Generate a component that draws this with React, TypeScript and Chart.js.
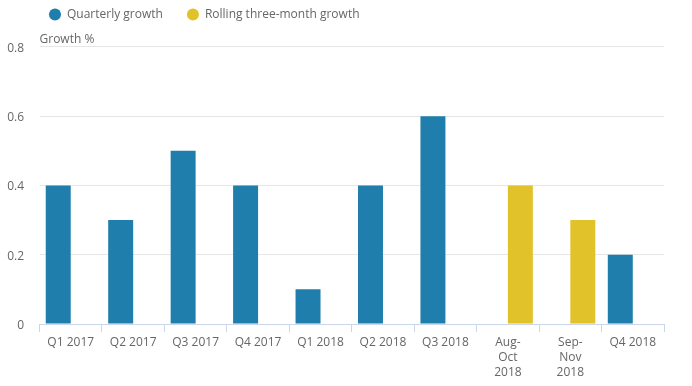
import React, { useEffect, useRef } from "react";
import { Chart, registerables } from "chart.js";

Chart.register(...registerables);

const categories: (string | string[])[] = [
  "Q1 2017",
  "Q2 2017",
  "Q3 2017",
  "Q4 2017",
  "Q1 2018",
  "Q2 2018",
  "Q3 2018",
  ["Aug-", "Oct", "2018"],
  ["Sep-", "Nov", "2018"],
  "Q4 2018",
];

const quarterlyGrowth: (number | null)[] = [0.4, 0.3, 0.5, 0.4, 0.1, 0.4, 0.6, null, null, 0.2];
const rollingGrowth: (number | null)[] = [null, null, null, null, null, null, null, 0.4, 0.3, null];

const yMin = 0;
const yMax = 0.8;
const yStep = 0.2;

const FONT = "'Open Sans', 'Noto Sans', sans-serif";

const legendShift = {
  id: "legendShift",
  afterLayout(chart: any) {
    if (chart.legend) {
      chart.legend.left += 25;
      chart.legend.right += 25;
    }
  },
};

export default function App() {
  const ref = useRef<HTMLCanvasElement | null>(null);

  useEffect(() => {
    if (!ref.current) return;
    const chart = new Chart(ref.current, {
      type: "bar",
      data: {
        labels: categories,
        datasets: [
          {
            label: "Quarterly growth",
            data: quarterlyGrowth,
            backgroundColor: "#1f7eab",
            categoryPercentage: 0.8,
            barPercentage: 1,
          },
          {
            label: "Rolling three-month growth",
            data: rollingGrowth,
            backgroundColor: "#e1c22b",
            categoryPercentage: 0.8,
            barPercentage: 1,
          },
        ],
      },
      plugins: [legendShift],
      options: {
        animation: false,
        responsive: true,
        maintainAspectRatio: false,
        layout: { padding: { left: 0, right: 28, top: -15.5, bottom: 0 } },
        plugins: {
          tooltip: { enabled: false },
          legend: {
            display: true,
            position: "top",
            align: "start",
            labels: {
              usePointStyle: true,
              pointStyle: "circle",
              boxWidth: 12,
              boxHeight: 8.5,
              padding: 24,
              color: "#666666",
              font: { family: FONT, size: 12 },
            },
          },
          title: {
            display: true,
            text: "Growth %",
            align: "start",
            fullSize: false,
            weight: 100,
            color: "#666666",
            font: { family: FONT, size: 12, weight: "normal" },
            padding: { top: 2, bottom: 0 },
          },
        },
        scales: {
          x: {
            grid: {
              display: true,
              drawOnChartArea: false,
              drawTicks: true,
              tickLength: 8,
              color: "#ccd6eb",
              offset: true,
            },
            border: { display: true, color: "#ccd6eb" },
            ticks: {
              color: "#666666",
              padding: 3,
              maxRotation: 0,
              autoSkip: false,
              font: { family: FONT, size: 12, lineHeight: 1.25 },
            },
            afterFit: (scale: any) => {
              scale.height = 62;
            },
          },
          y: {
            min: yMin,
            max: yMax,
            grid: {
              color: "#e6e6e6",
              drawTicks: false,
            },
            border: { display: false },
            ticks: {
              stepSize: yStep,
              color: "#666666",
              padding: 15.5,
              labelOffset: 1.5,
              font: { family: FONT, size: 12 },
            },
            afterFit: (scale: any) => {
              scale.width = 39.5;
            },
          },
        },
      },
    });
    return () => chart.destroy();
  }, []);

  return (
    <div style={{ position: "fixed", left: 0, top: 0, width: 692, height: 386 }}>
      <canvas ref={ref} />
    </div>
  );
}
